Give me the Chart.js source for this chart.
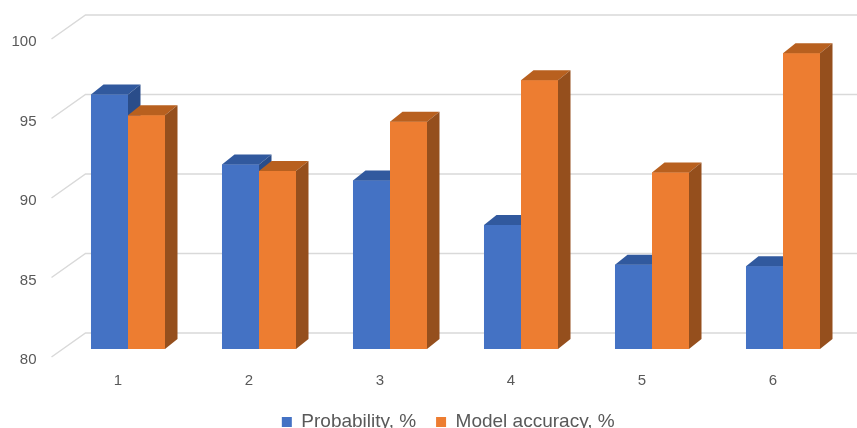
<!DOCTYPE html>
<html>
<head>
<meta charset="utf-8">
<script src="https://cdn.jsdelivr.net/npm/chart.js@4.4.1/dist/chart.umd.min.js"></script>
<style>
  html, body { margin: 0; padding: 0; background: #fff; }
  #wrap { width: 857px; height: 428px; }
</style>
</head>
<body>
<div id="wrap"><canvas id="chart" width="857" height="428"></canvas></div>
<script>
const categories = ['1', '2', '3', '4', '5', '6']
const probability = [96.0, 91.6, 90.6, 87.8, 85.3, 85.2]
const modelAccuracy = [94.7, 91.2, 94.3, 96.9, 91.1, 98.6]
const yTicks = [80, 85, 90, 95, 100]

// fake 3d: offsets relative to the bar front plane
const WALL_FRONT = { x: -11, y: 8 }
const WALL_BACK = { x: 23, y: -16 }
const BAR_DEPTH = { x: 12.5, y: -10 }
const LEGEND_SHIFT = 24

const faceColors = [
  { top: '#31599E', side: '#2A4D8A' },
  { top: '#B8601F', side: '#954F1D' },
]

const depth3d = {
  id: 'depth3d',
  afterLayout(chart) {
    // legend sits a bit right of centre in the original
    chart.legend.left += LEGEND_SHIFT
    chart.legend.right += LEGEND_SHIFT
  },
  beforeDatasetsDraw(chart) {
    const { ctx, chartArea } = chart
    const yScale = chart.scales.y
    ctx.save()
    ctx.strokeStyle = '#D9D9D9'
    ctx.lineWidth = 1.5
    yScale.ticks.forEach((t) => {
      const py = yScale.getPixelForValue(t.value)
      ctx.beginPath()
      ctx.moveTo(chartArea.left + WALL_FRONT.x, py + WALL_FRONT.y)
      ctx.lineTo(chartArea.left + WALL_BACK.x, py + WALL_BACK.y)
      ctx.lineTo(chart.width, py + WALL_BACK.y)
      ctx.stroke()
    })
    ctx.restore()
  },
  afterDatasetsDraw(chart) {
    const ctx = chart.ctx
    const yScale = chart.scales.y
    const floor = yScale.getPixelForValue(yScale.min)
    ctx.save()
    categories.forEach((c, i) => {
      // blue first, then orange, so the nearer bar hides what it should
      chart.data.datasets.forEach((ds, di) => {
        const bar = chart.getDatasetMeta(di).data[i]
        const { x, y, width } = bar.getProps(['x', 'y', 'width'], true)
        const base = floor
        const l = x - width / 2
        const r = x + width / 2

        ctx.fillStyle = ds.backgroundColor
        ctx.fillRect(l, y, width, base - y)

        ctx.fillStyle = faceColors[di].top
        ctx.beginPath()
        ctx.moveTo(l, y)
        ctx.lineTo(r, y)
        ctx.lineTo(r + BAR_DEPTH.x, y + BAR_DEPTH.y)
        ctx.lineTo(l + BAR_DEPTH.x, y + BAR_DEPTH.y)
        ctx.closePath()
        ctx.fill()

        ctx.fillStyle = faceColors[di].side
        ctx.beginPath()
        ctx.moveTo(r, y)
        ctx.lineTo(r + BAR_DEPTH.x, y + BAR_DEPTH.y)
        ctx.lineTo(r + BAR_DEPTH.x, base + BAR_DEPTH.y)
        ctx.lineTo(r, base)
        ctx.closePath()
        ctx.fill()
      })
    })
    ctx.restore()
  },
}

new Chart(document.getElementById('chart').getContext('2d'), {
  type: 'bar',
  data: {
    labels: categories,
    datasets: [
      {
        label: 'Probability, %',
        data: probability,
        backgroundColor: '#4472C4',
        borderWidth: 0,
        categoryPercentage: 0.565,
        barPercentage: 1,
      },
      {
        label: 'Model accuracy, %',
        data: modelAccuracy,
        backgroundColor: '#ED7D31',
        borderWidth: 0,
        categoryPercentage: 0.565,
        barPercentage: 1,
      },
    ],
  },
  options: {
    responsive: false,
    animation: false,
    layout: {
      padding: { top: 31, right: 8.5, bottom: -13.5, left: 0 },
    },
    plugins: {
      legend: {
        position: 'bottom',
        labels: {
          boxWidth: 10,
          boxHeight: 10,
          padding: 20,
          color: '#595959',
          font: { family: 'Liberation Sans', size: 19 },
        },
      },
      tooltip: { enabled: false },
    },
    scales: {
      x: {
        grid: { display: false, drawTicks: false },
        border: { display: false },
        ticks: {
          color: '#595959',
          font: { family: 'Liberation Sans', size: 15 },
          padding: 23,
          labelOffset: -10,
          maxRotation: 0,
        },
        afterFit(scale) {
          scale.height = 43.5
        },
      },
      y: {
        min: 80,
        max: 100,
        grid: { display: false, drawTicks: false },
        border: { display: false },
        ticks: {
          color: '#595959',
          // small lineHeight keeps the label padding from pushing the plot down
          font: { family: 'Liberation Sans', size: 15, lineHeight: 0.5 },
          padding: 26,
          labelOffset: 11,
        },
        afterBuildTicks(axis) {
          axis.ticks = yTicks.map((v) => ({ value: v }))
        },
        afterFit(scale) {
          scale.width = 62.5
        },
      },
    },
  },
  plugins: [depth3d],
})
</script>
</body>
</html>
